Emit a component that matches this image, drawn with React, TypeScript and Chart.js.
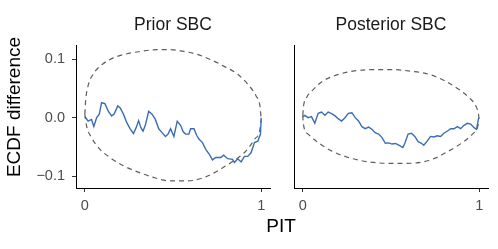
import { useEffect, useRef } from "react";
import { Chart, registerables } from "chart.js";

Chart.register(...registerables);

const FONT = "'Liberation Sans', Arial, Helvetica, sans-serif";

const panelTitles = ["Prior SBC", "Posterior SBC"];
const xAxisTitle = "PIT";
const yAxisTitle = "ECDF difference";
const xTickValues = [0, 1];
const yTickValues = [-0.1, 0, 0.1];

// Prior SBC: ECDF difference trace
const priorPit = [0, 0.019, 0.038, 0.051, 0.067, 0.082, 0.095, 0.114, 0.133, 0.152, 0.166, 0.187, 0.2, 0.219, 0.238, 0.257, 0.276, 0.291, 0.305, 0.318, 0.33, 0.343, 0.362, 0.381, 0.4, 0.419, 0.438, 0.457, 0.472, 0.486, 0.505, 0.524, 0.543, 0.558, 0.571, 0.59, 0.6, 0.619, 0.634, 0.648, 0.667, 0.686, 0.705, 0.724, 0.743, 0.771, 0.787, 0.81, 0.838, 0.848, 0.867, 0.886, 0.905, 0.924, 0.943, 0.962, 0.981, 0.996, 1.0];
const priorEcdf = [0.002, -0.006, -0.003, -0.015, 0.0, 0.006, 0.0255, 0.024, 0.011, 0.003, 0.006, 0.02, 0.017, 0.006, -0.0085, -0.019, -0.027, -0.017, -0.005, -0.017, -0.023, -0.013, 0.011, 0.006, -0.003, -0.019, -0.0255, -0.032, -0.028, -0.019, -0.032, -0.006, -0.013, -0.024, -0.028, -0.028, -0.019, -0.019, -0.03, -0.037, -0.0425, -0.054, -0.062, -0.072, -0.068, -0.068, -0.064, -0.07, -0.071, -0.0765, -0.07, -0.0755, -0.066, -0.066, -0.0595, -0.0425, -0.04, -0.028, 0.0];

// Prior SBC: envelope, upper and lower limits
const priorUpperPit = [0, 0.005, 0.019, 0.048, 0.095, 0.162, 0.238, 0.314, 0.41, 0.486, 0.562, 0.638, 0.714, 0.79, 0.867, 0.924, 0.971, 0.994, 1.0];
const priorUpper = [0.006, 0.03, 0.055, 0.0745, 0.09, 0.102, 0.109, 0.113, 0.116, 0.116, 0.113, 0.108, 0.099, 0.0875, 0.074, 0.057, 0.037, 0.018, -0.003];
const priorLowerPit = [0, 0.01, 0.038, 0.086, 0.143, 0.219, 0.295, 0.39, 0.486, 0.581, 0.676, 0.752, 0.829, 0.905, 0.962, 0.993, 1.0];
const priorLower = [0.006, -0.014, -0.034, -0.054, -0.068, -0.082, -0.092, -0.102, -0.108, -0.108, -0.102, -0.091, -0.0765, -0.0595, -0.037, -0.02, -0.003];

// Posterior SBC: ECDF difference trace
const postPit = [0, 0.011, 0.03, 0.049, 0.068, 0.087, 0.106, 0.125, 0.144, 0.163, 0.183, 0.2, 0.22, 0.239, 0.258, 0.278, 0.297, 0.316, 0.335, 0.354, 0.373, 0.392, 0.41, 0.43, 0.449, 0.468, 0.487, 0.506, 0.525, 0.544, 0.567, 0.578, 0.597, 0.616, 0.635, 0.654, 0.673, 0.686, 0.705, 0.724, 0.743, 0.762, 0.781, 0.8, 0.82, 0.838, 0.857, 0.876, 0.895, 0.914, 0.933, 0.952, 0.971, 0.985, 0.996, 1.0];
const postEcdf = [0.0017, 0.004, 0.0, 0.0017, -0.0096, 0.0074, 0.0096, 0.004, 0.0096, 0.007, 0.003, -0.0017, -0.0057, 0.0, 0.0074, 0.0085, 0.0, -0.0057, -0.0153, -0.0187, -0.016, -0.0198, -0.0255, -0.028, -0.034, -0.0437, -0.043, -0.045, -0.044, -0.047, -0.051, -0.044, -0.028, -0.0266, -0.032, -0.041, -0.0437, -0.047, -0.04, -0.032, -0.033, -0.031, -0.032, -0.0266, -0.0227, -0.0187, -0.019, -0.0153, -0.0187, -0.013, -0.0096, -0.011, -0.017, -0.0198, -0.0017, 0.0];

// Posterior SBC: envelope, upper and lower limits
const postUpperPit = [0, 0.003, 0.021, 0.059, 0.106, 0.183, 0.278, 0.392, 0.506, 0.62, 0.715, 0.81, 0.886, 0.943, 0.981, 0.996, 1.0];
const postUpper = [0.004, 0.017, 0.034, 0.048, 0.061, 0.072, 0.079, 0.082, 0.082, 0.079, 0.074, 0.062, 0.048, 0.034, 0.02, 0.006, -0.004];
const postLowerPit = [0, 0.002, 0.03, 0.087, 0.163, 0.259, 0.373, 0.506, 0.62, 0.734, 0.829, 0.905, 0.962, 0.99, 1.0];
const postLower = [0.004, -0.0085, -0.028, -0.0425, -0.0567, -0.068, -0.0754, -0.078, -0.0777, -0.071, -0.0567, -0.0425, -0.028, -0.017, -0.004];

const X_MIN = -0.05;
const X_MAX = 1.05;
const Y_MIN = -0.12;
const Y_MAX = 0.124;

const zip = (xs: number[], ys: number[]) => xs.map((x, i) => ({ x, y: ys[i] }));

const fmtY = (v: number) => (v < 0 ? "\u2212" : "") + Math.abs(v).toFixed(1);

const figureTitles = {
  id: "figureTitles",
  afterDraw(chart: any) {
    const ctx = chart.ctx;
    ctx.save();
    ctx.fillStyle = "#000000";
    ctx.font = `19px ${FONT}`;
    ctx.textAlign = "center";
    ctx.textBaseline = "middle";
    ctx.fillText(xAxisTitle, 281, 227);
    ctx.translate(15, 107);
    ctx.rotate(-Math.PI / 2);
    ctx.fillText(yAxisTitle, 0, 0);
    ctx.restore();
  },
};

const bandStyle = {
  borderColor: "#5e5e5e",
  borderWidth: 1.2,
  borderDash: [5, 4],
  pointRadius: 0,
  cubicInterpolationMode: "monotone" as const,
  fill: false,
  xAxisID: "x",
  yAxisID: "y",
};

function buildConfig(opts: {
  title: string;
  trace: { x: number[]; y: number[] };
  upper: { x: number[]; y: number[] };
  lower: { x: number[]; y: number[] };
  showY: boolean;
  yWidth: number;
  padRight: number;
  withFigureTitles: boolean;
}) {
  return {
    type: "line" as const,
    data: {
      datasets: [
        {
          data: zip(opts.trace.x, opts.trace.y),
          borderColor: "#3a6db5",
          borderWidth: 1.4,
          pointRadius: 0,
          tension: 0,
          fill: false,
          xAxisID: "x",
          yAxisID: "y",
        },
        { ...bandStyle, data: zip(opts.upper.x, opts.upper.y) },
        { ...bandStyle, data: zip(opts.lower.x, opts.lower.y) },
      ],
    },
    options: {
      animation: false,
      responsive: false,
      maintainAspectRatio: false,
      devicePixelRatio: 1,
      layout: { padding: { left: 0, top: 0, right: opts.padRight, bottom: 0 } },
      plugins: { legend: { display: false }, tooltip: { enabled: false } },
      scales: {
        x: {
          type: "linear",
          position: "bottom",
          min: X_MIN,
          max: X_MAX,
          afterBuildTicks: (s: any) => {
            s.ticks = xTickValues.map((v) => ({ value: v }));
          },
          afterFit: (s: any) => {
            s.height = 61;
          },
          ticks: {
            color: "#4d4d4d",
            font: { family: FONT, size: 14.5 },
            padding: 5,
            maxRotation: 0,
            autoSkip: false,
            callback: (v: any) => String(v),
          },
          grid: { display: true, drawOnChartArea: false, drawTicks: true, tickLength: 4, color: "#333333", lineWidth: 1 },
          border: { display: true, color: "#000000", width: 1 },
        },
        xTop: {
          type: "linear",
          position: "top",
          min: X_MIN,
          max: X_MAX,
          afterFit: (s: any) => {
            s.height = 45;
          },
          ticks: { display: false },
          grid: { display: false, drawTicks: false },
          border: { display: false },
          title: {
            display: true,
            text: opts.title,
            color: "#1a1a1a",
            font: { family: FONT, size: 17.5 },
            padding: { top: 15, bottom: 0 },
          },
        },
        y: {
          type: "linear",
          position: "left",
          min: Y_MIN,
          max: Y_MAX,
          afterBuildTicks: (s: any) => {
            s.ticks = yTickValues.map((v) => ({ value: v }));
          },
          afterFit: (s: any) => {
            s.width = opts.yWidth;
          },
          ticks: {
            display: opts.showY,
            color: "#4d4d4d",
            font: { family: FONT, size: 14.5 },
            padding: 7,
            autoSkip: false,
            callback: (v: any) => fmtY(Number(v)),
          },
          grid: { display: opts.showY, drawOnChartArea: false, drawTicks: opts.showY, tickLength: 4, color: "#333333", lineWidth: 1 },
          border: { display: true, color: "#000000", width: 1 },
        },
      },
    },
    plugins: opts.withFigureTitles ? [figureTitles] : [],
  };
}

function Panel(props: { left: number; width: number; config: any }) {
  const ref = useRef<HTMLCanvasElement | null>(null);
  useEffect(() => {
    if (!ref.current) return;
    const chart = new Chart(ref.current, props.config);
    return () => chart.destroy();
  }, []);
  return (
    <canvas
      ref={ref}
      width={props.width}
      height={249}
      style={{ position: "absolute", left: props.left, top: 0, width: props.width, height: 249 }}
    />
  );
}

export default function App() {
  const leftConfig = buildConfig({
    title: panelTitles[0],
    trace: { x: priorPit, y: priorEcdf },
    upper: { x: priorUpperPit, y: priorUpper },
    lower: { x: priorLowerPit, y: priorLower },
    showY: true,
    yWidth: 76,
    padRight: 228,
    withFigureTitles: true,
  });
  const rightConfig = buildConfig({
    title: panelTitles[1],
    trace: { x: postPit, y: postEcdf },
    upper: { x: postUpperPit, y: postUpper },
    lower: { x: postLowerPit, y: postLower },
    showY: false,
    yWidth: 22,
    padRight: 10,
    withFigureTitles: false,
  });
  return (
    <div style={{ position: "absolute", left: 0, top: 0, width: 498, height: 249, background: "#ffffff", overflow: "hidden" }}>
      <Panel left={0} width={498} config={leftConfig} />
      <Panel left={272} width={226} config={rightConfig} />
    </div>
  );
}
